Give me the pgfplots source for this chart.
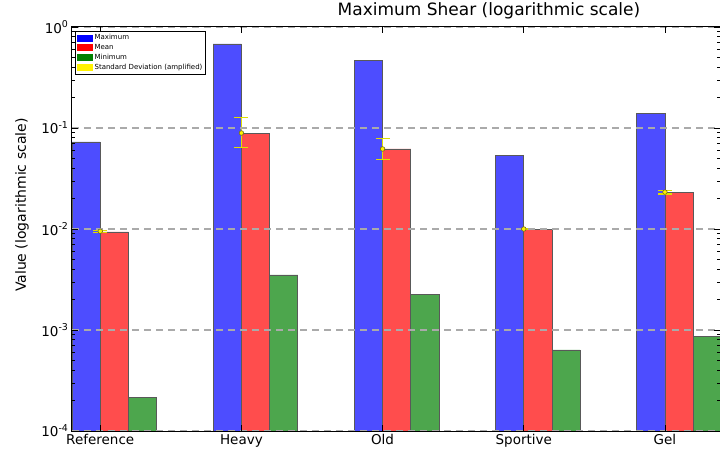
\documentclass[border=0pt]{standalone}
\usepackage{pgfplots}
\pgfplotsset{compat=1.18}
\usepackage{fontspec}
\setmainfont{DejaVu Sans}
\definecolor{barblue}{RGB}{77,77,255}
\definecolor{barred}{RGB}{255,77,77}
\definecolor{bargreen}{RGB}{77,166,77}
\definecolor{errye}{RGB}{222,222,0}
\definecolor{gridgray}{RGB}{170,170,170}
\begin{document}
\begin{tikzpicture}
\begin{axis}[
  name=ax,
  scale only axis,
  width=648pt, height=404pt,
  xmin=0, xmax=4.59,
  ymode=log, ymin=1e-4, ymax=1,
  log origin y=infty,
  axis on top,
  axis line style={black, line width=1pt},
  xtick={0.2,1.2,2.2,3.2,4.2},
  xticklabels={Reference,Heavy,Old,Sportive,Gel},
  ytick={1e-4,1e-3,1e-2,1e-1,1},
  yticklabels={10\textsuperscript{-4},10\textsuperscript{-3},10\textsuperscript{-2},10\textsuperscript{-1},10\textsuperscript{0}},
  minor ytick={2e-4,3e-4,4e-4,5e-4,6e-4,7e-4,8e-4,9e-4,2e-3,3e-3,4e-3,5e-3,6e-3,7e-3,8e-3,9e-3,2e-2,3e-2,4e-2,5e-2,6e-2,7e-2,8e-2,9e-2,0.2,0.3,0.4,0.5,0.6,0.7,0.8,0.9},
  tick align=inside,
  major tick length=6pt, minor tick length=3pt,
  tick style={black, line width=0.6pt},
  ticklabel style={font=\fontsize{13.5}{16}\selectfont},
  ymajorgrids,
  major grid style={gridgray, line width=1.2pt, dash pattern=on 7pt off 5pt},
  title={Maximum Shear (logarithmic scale)},
  title style={at={(axis description cs:0.6435,1)}, anchor=south, inner sep=0pt, yshift=2pt, font=\fontsize{17}{20}\selectfont},
  ylabel={Value (logarithmic scale)},
  ylabel style={at={(axis description cs:-0.0772,0.559)}, anchor=center, font=\fontsize{14}{16}\selectfont},
  legend cell align=left,
  legend style={at={(axis description cs:0.0046,0.990)}, anchor=north west, draw=black, line width=1pt, font=\fontsize{7}{8.5}\selectfont, row sep=0pt, inner sep=1.5pt, nodes={inner sep=1.6pt}},
]
\addlegendimage{legend image code/.code={\fill[blue] (0pt,-3pt) rectangle (15pt,3pt);}}
\addlegendentry{Maximum}
\addlegendimage{legend image code/.code={\fill[red] (0pt,-3pt) rectangle (15pt,3pt);}}
\addlegendentry{Mean}
\addlegendimage{legend image code/.code={\fill[green!50!black] (0pt,-3pt) rectangle (15pt,3pt);}}
\addlegendentry{Minimum}
\addlegendimage{legend image code/.code={\fill[yellow] (0pt,-3pt) rectangle (15pt,3pt);}}
\addlegendentry{Standard Deviation (amplified)}

\addplot[ybar, bar width=0.2, bar shift=0pt, fill=barblue, draw=black!65, line width=0.8pt, forget plot]
  coordinates {(0.1,0.0727) (1.1,0.679) (2.1,0.471) (3.1,0.0540) (4.1,0.140)};
\addplot[ybar, bar width=0.2, bar shift=0pt, fill=barred, draw=black!65, line width=0.8pt, forget plot]
  coordinates {(0.3,0.00934) (1.3,0.0892) (2.3,0.0620) (3.3,0.0100) (4.3,0.0232)};
\addplot[ybar, bar width=0.2, bar shift=0pt, fill=bargreen, draw=black!65, line width=0.8pt, forget plot]
  coordinates {(0.5,0.000214) (1.5,0.00351) (2.5,0.00227) (3.5,0.000634) (4.5,0.000872)};

\addplot[only marks, mark=*, mark size=2.3pt, mark options={fill=yellow, draw=olive!70!black, line width=0.6pt}, forget plot,
  error bars/.cd, y dir=both, y explicit,
  error bar style={errye, line width=1.2pt},
  error mark options={rotate=90, errye, mark size=7pt, line width=1.2pt}]
  coordinates {
    (0.2,0.0095) += (0,0.0002) -= (0,0.0002)
    (1.2,0.0892) += (0,0.0373) -= (0,0.0254)
    (2.2,0.0620) += (0,0.0164) -= (0,0.0130)
    (3.2,0.0100) += (0,0.0002) -= (0,0.0002)
    (4.2,0.0232) += (0,0.0010) -= (0,0.0010)
  };
\end{axis}
\pgfresetboundingbox
\path ([shift={(-72pt,-21pt)}]ax.south west) rectangle ([shift={(0pt,27pt)}]ax.north east);
\end{tikzpicture}
\end{document}
